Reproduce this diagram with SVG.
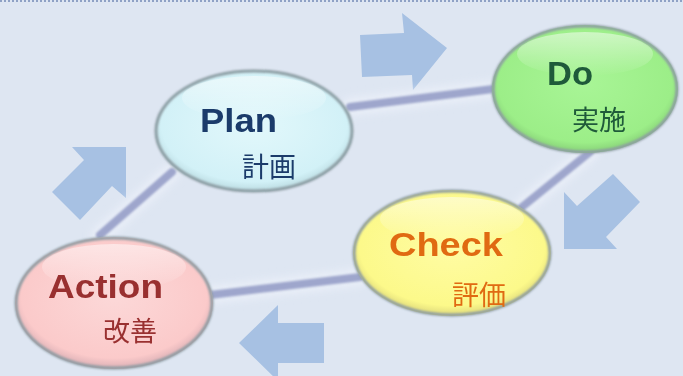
<svg xmlns="http://www.w3.org/2000/svg" width="683" height="376" viewBox="0 0 683 376">
<defs>
<style>
.arrow{fill:#a7c1e3}
.conn{fill:none;stroke:#9ea6cc;stroke-width:8;stroke-linecap:round}
.glow{fill:none;stroke:#eef2fb;stroke-width:18;stroke-linecap:round;opacity:0.7}
.ring{fill:none;stroke:#8d9ca3;stroke-width:3}
.en{font-family:"Liberation Sans",Arial,sans-serif;font-weight:bold;font-size:34px}
.jp{font-family:"Noto Sans CJK JP","Noto Sans",sans-serif;font-size:27px}
</style>
<filter id="soft" x="-20%" y="-20%" width="140%" height="140%"><feGaussianBlur stdDeviation="1.2"/></filter>
<filter id="halo" x="-20%" y="-20%" width="140%" height="140%"><feGaussianBlur stdDeviation="4"/></filter>
<radialGradient id="gPlan" cx="0.5" cy="0.45" r="0.55"><stop offset="0" stop-color="#e2f8fb"/><stop offset="0.85" stop-color="#d2f1f7"/><stop offset="1" stop-color="#b9d9df"/></radialGradient>
<radialGradient id="gDo" cx="0.5" cy="0.45" r="0.55"><stop offset="0" stop-color="#a8f596"/><stop offset="0.85" stop-color="#9cee88"/><stop offset="1" stop-color="#86cf77"/></radialGradient>
<radialGradient id="gCheck" cx="0.5" cy="0.45" r="0.55"><stop offset="0" stop-color="#fffca4"/><stop offset="0.85" stop-color="#fcf98a"/><stop offset="1" stop-color="#dcd77a"/></radialGradient>
<radialGradient id="gAction" cx="0.5" cy="0.45" r="0.55"><stop offset="0" stop-color="#fcd8d8"/><stop offset="0.85" stop-color="#fbcaca"/><stop offset="1" stop-color="#d9aeb4"/></radialGradient>
<linearGradient id="gloss" x1="0" y1="0" x2="0" y2="1"><stop offset="0" stop-color="#ffffff" stop-opacity="0.5"/><stop offset="1" stop-color="#ffffff" stop-opacity="0"/></linearGradient>
</defs>
<rect width="683" height="376" fill="#dee6f2"/>
<line x1="0" y1="1" x2="683" y2="1" stroke="#8ea1c5" stroke-width="2" stroke-dasharray="2,2"/>

<g id="arrows">
<polygon class="arrow" points="360,35 404,33 402,13 447,48 413,90 412,75 362,77"/>
<polygon class="arrow" points="564,192 577,206 613,174 640,202 606,237 617,249 564,249"/>
<polygon class="arrow" points="239,343 278,305 278,323 324,323 324,363 278,363 278,381"/>
<polygon class="arrow" points="72,147 126,147 126,198 112,186 80,220 52,192 84,160"/>
</g>

<g id="connectors">
<g filter="url(#halo)">
<line class="glow" x1="350" y1="107" x2="493" y2="89"/>
<line class="glow" x1="590" y1="152" x2="522" y2="207"/>
<line class="glow" x1="360" y1="277" x2="210" y2="295"/>
<line class="glow" x1="100" y1="235" x2="172" y2="172"/>
</g>
<g filter="url(#soft)">
<line class="conn" x1="350" y1="107" x2="493" y2="89"/>
<line class="conn" x1="590" y1="152" x2="522" y2="207"/>
<line class="conn" x1="360" y1="277" x2="210" y2="295"/>
<line class="conn" x1="100" y1="235" x2="172" y2="172"/>
</g>
</g>

<g id="plan">
<ellipse cx="254" cy="131" rx="99" ry="61" fill="url(#gPlan)"/>
<ellipse class="ring" cx="254" cy="131" rx="98" ry="60" filter="url(#soft)"/>
<ellipse cx="254" cy="98" rx="72" ry="22" fill="url(#gloss)"/>
<text class="en" x="200" y="132" fill="#1b3b6a" textLength="77" lengthAdjust="spacingAndGlyphs">Plan</text>
<text class="jp" x="242" y="177" fill="#1b3b6a">計画</text>
</g>

<g id="do">
<ellipse cx="585" cy="89" rx="93" ry="64" fill="url(#gDo)"/>
<ellipse class="ring" cx="585" cy="89" rx="92" ry="63" stroke="#6f9d6c" filter="url(#soft)"/>
<ellipse cx="585" cy="54" rx="68" ry="22" fill="url(#gloss)"/>
<text class="en" x="547" y="85" fill="#1f5a3a" textLength="46" lengthAdjust="spacingAndGlyphs">Do</text>
<text class="jp" x="572" y="130" fill="#1f5a3a">実施</text>
</g>

<g id="check">
<ellipse cx="452" cy="253" rx="99" ry="63" fill="url(#gCheck)"/>
<ellipse class="ring" cx="452" cy="253" rx="98" ry="62" stroke="#a7a37a" filter="url(#soft)"/>
<ellipse cx="452" cy="219" rx="72" ry="22" fill="url(#gloss)"/>
<text class="en" x="389" y="256" fill="#e06a12" textLength="114" lengthAdjust="spacingAndGlyphs">Check</text>
<text class="jp" x="452" y="305" fill="#e06a12">評価</text>
</g>

<g id="action">
<ellipse cx="114" cy="303" rx="99" ry="66" fill="url(#gAction)"/>
<ellipse class="ring" cx="114" cy="303" rx="98" ry="65" stroke="#a38f95" filter="url(#soft)"/>
<ellipse cx="114" cy="267" rx="72" ry="23" fill="url(#gloss)"/>
<text class="en" x="48" y="298" fill="#993030" textLength="115" lengthAdjust="spacingAndGlyphs">Action</text>
<text class="jp" x="103" y="341" fill="#993030">改善</text>
</g>
</svg>
